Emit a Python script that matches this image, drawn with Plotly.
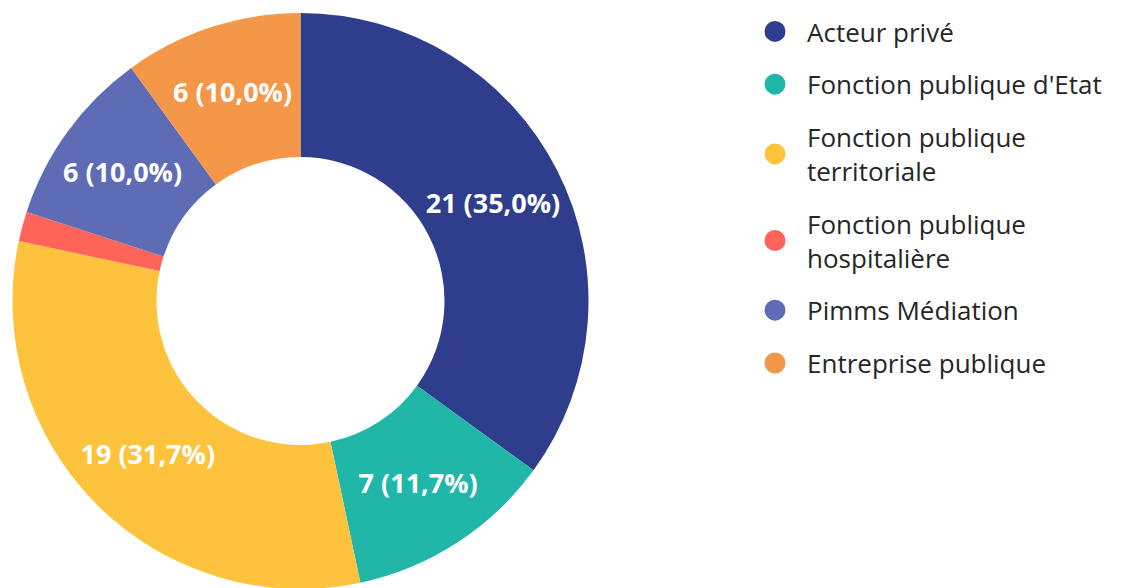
import plotly.graph_objects as go

categories = ["Acteur privé", "Fonction publique d'Etat", "Fonction publique territoriale",
              "Fonction publique hospitalière", "Pimms Médiation", "Entreprise publique"]
legend_labels = ["Acteur privé", "Fonction publique d'Etat", "Fonction publique<br>territoriale",
                 "Fonction publique<br>hospitalière", "Pimms Médiation", "Entreprise publique"]
values = [21, 7, 19, 1, 6, 6]
colors = ["#2E3D8C", "#20B7A9", "#FDC33C", "#FF645A", "#5E6CB6", "#F59748"]
show_label = [True, True, True, False, True, True]

templates = ["%{value} (%{percent:.1%})" if s else "" for s in show_label]

W, H = 1130, 588

fig = go.Figure()
fig.add_trace(go.Pie(
    labels=categories, values=values, hole=0.5, sort=False, direction="clockwise", rotation=0,
    marker=dict(colors=colors, line=dict(width=0)),
    texttemplate=templates, textposition="inside", insidetextorientation="horizontal",
    textfont=dict(family="Open Sans", size=27, color="white", weight="bold"),
    showlegend=False, hoverinfo="label+value+percent",
    domain=dict(x=[4.5 / W, 580.5 / W], y=[1 - 581 / H, 1 - 5 / H]),
))

for i, (lab, col) in enumerate(zip(legend_labels, colors)):
    fig.add_trace(go.Scatter(
        x=[None], y=[None], mode="markers", name=lab, legendgroup=f"g{i}",
        marker=dict(symbol="circle", size=16, color=col, line=dict(width=5, color=col)),
    ))

fig.update_layout(
    width=W, height=H,
    margin=dict(l=0, r=0, t=0, b=0),
    paper_bgcolor="white", plot_bgcolor="white",
    separators=", ",
    uniformtext=dict(minsize=27, mode="show"),
    xaxis=dict(visible=False), yaxis=dict(visible=False),
    legend=dict(
        x=735 / W, y=1.0, xanchor="left", yanchor="top",
        font=dict(family="Open Sans", size=26, color="#262626"),
        traceorder="grouped", tracegroupgap=16, itemwidth=54,
        bgcolor="rgba(0,0,0,0)",
    ),
)

fig.write_html("out.html")
